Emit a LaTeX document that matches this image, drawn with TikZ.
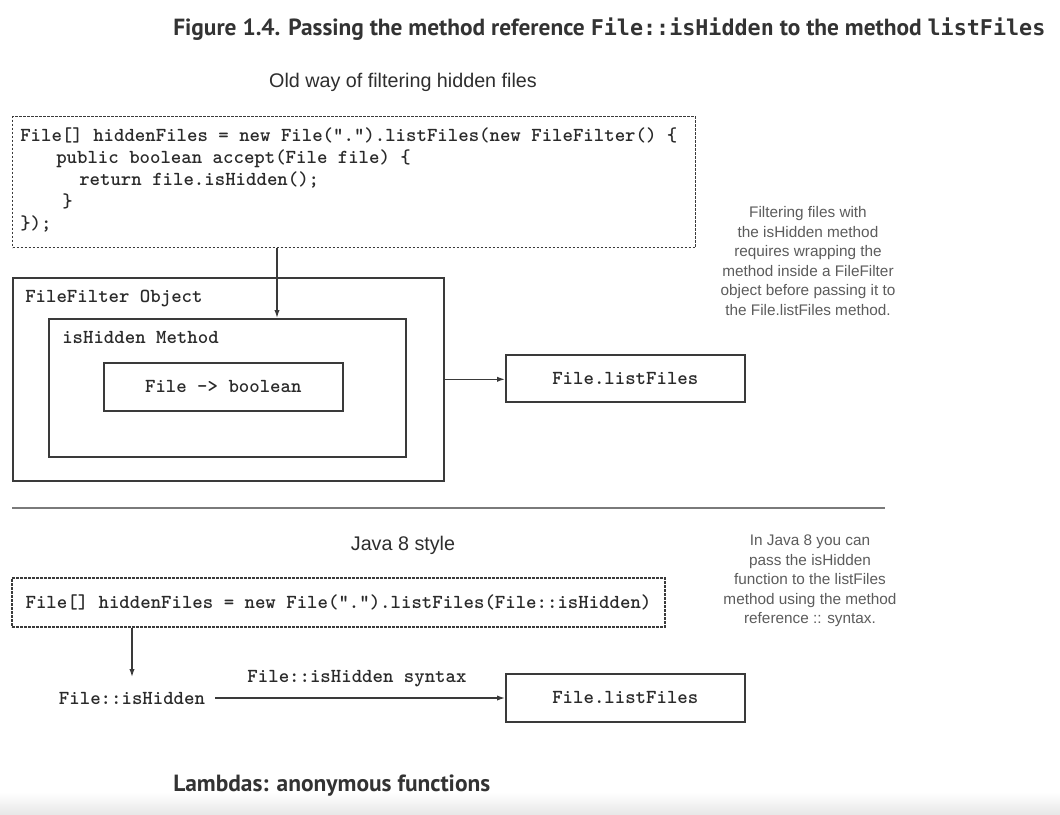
\documentclass[tikz,border=0pt]{standalone}
\usepackage{fontspec}
\setmainfont{Liberation Sans}
\newfontfamily\titlefont{PT Sans}
\newfontfamily\titlemono{DejaVu Sans Mono}
\usetikzlibrary{arrows.meta}
\definecolor{ink}{HTML}{333333}
\definecolor{boxline}{HTML}{3A3A3A}
\definecolor{note}{HTML}{5C5C5C}
\definecolor{head}{HTML}{2E2E2E}
\definecolor{code}{HTML}{2A2A2A}
\definecolor{rulegray}{HTML}{7A7A7A}
\tikzset{
  codefont/.style={font=\ttfamily\bfseries\fontsize{14.9}{17}\selectfont, text=code},
  codeline/.style={codefont, anchor=base west, inner sep=0pt},
  solidbox/.style={draw=boxline, line width=1.2pt, codefont, inner sep=0pt},
  dashbox/.style={draw=boxline, line width=1pt, dash pattern=on 2pt off 1pt, codefont, inner sep=0pt},
  heading/.style={font=\fontsize{14.8}{17}\selectfont, text=head, inner sep=0pt},
  notetext/.style={font=\fontsize{11.5}{14.7}\selectfont, text=note, align=center, inner sep=0pt},
  arr/.style={draw=boxline, line width=1pt, -{Latex[length=6pt,width=4pt]}},
}
\begin{document}
\begin{tikzpicture}[x=0.75pt,y=-0.75pt]
\useasboundingbox (0,0) rectangle (1060,814);
\fill[white] (0,0) rectangle (1060,814);
\shade[top color=white, bottom color=black!9] (0,792) rectangle (1060,814);

% title
\node[anchor=base west, inner sep=0pt, text=ink] (title) at (173,35)
  {\resizebox{654pt}{!}{\titlefont\bfseries Figure 1.4. Passing the method reference {\titlemono\bfseries\fontsize{9.3}{11}\selectfont File::isHidden} to the method {\titlemono\bfseries\fontsize{9.3}{11}\selectfont listFiles}}};

% old way
\node[heading] (oldhead) at (403,82) {Old way of filtering hidden files};
\node[dashbox, minimum width=512.25pt, minimum height=98.25pt, anchor=north west] (old) at (12,116) {};
\node[codeline] (l1) at (20,141) {File[] hiddenFiles = new File(".").listFiles(new FileFilter() \{};
\node[codeline] (l2) at (56,163) {public boolean accept(File file) \{};
\node[codeline] (l3) at (79,185) {return file.isHidden();};
\node[codeline] (l4) at (62,207) {\}};
\node[codeline] (l5) at (20,229) {\});};

\node[solidbox, minimum width=323.25pt, minimum height=152.25pt, anchor=north west] (outer) at (12,277) {};
\node[codeline] (outerlbl) at (25,302) {FileFilter Object};
\node[solidbox, minimum width=267.75pt, minimum height=103.5pt, anchor=north west] (method) at (48,318) {};
\node[codeline] (methodlbl) at (62,343) {isHidden Method};
\node[solidbox, minimum width=179.25pt, minimum height=36pt, anchor=north west] (fb) at (103,362) {File -> boolean};
\node[solidbox, minimum width=179.25pt, minimum height=35.25pt, anchor=north west] (lf1) at (505,354) {File.listFiles};

\coordinate (drop1) at (277,260);
\draw[arr] (old.south -| drop1) -- (method.north -| drop1);
\draw[arr] (outer.east) -- (outer.east -| lf1.west);

\node[notetext] (note1) at (808,261) {Filtering files with\\the isHidden method\\requires wrapping the\\method inside a FileFilter\\object before passing it to\\the File.listFiles method.};

% separator
\draw[rulegray, line width=1.6pt] (12,508) -- (885,508);

% java 8 style
\node[heading] (newhead) at (403,545) {Java 8 style};
\node[dashbox, minimum width=489.75pt, minimum height=36.75pt] (new) at (338.5,602.5) {File[] hiddenFiles = new File(".").listFiles(File::isHidden)};
\node[codefont, inner sep=2pt] (fih) at (132,698) {File::isHidden};
\coordinate (tip2) at (132,677);
\draw[arr] (new.south -| tip2) -- (tip2);
\node[solidbox, minimum width=179.25pt, minimum height=36pt, anchor=north west] (lf2) at (505,673) {File.listFiles};
\node[codefont, inner sep=0pt] (synlbl) at (357,679) {File::isHidden syntax};
\draw[arr] (fih.east -| 215,0) -- (fih.east -| lf2.west);

\node[notetext] (note2) at (810,581) {In Java 8 you can\\pass the isHidden\\function to the listFiles\\method using the method\\reference :: syntax.};

% footer heading
\node[anchor=base west, inner sep=0pt, text=ink] (lambdas) at (173,791)
  {\resizebox{237.75pt}{!}{\titlefont\bfseries Lambdas: anonymous functions}};
\end{tikzpicture}
\end{document}
